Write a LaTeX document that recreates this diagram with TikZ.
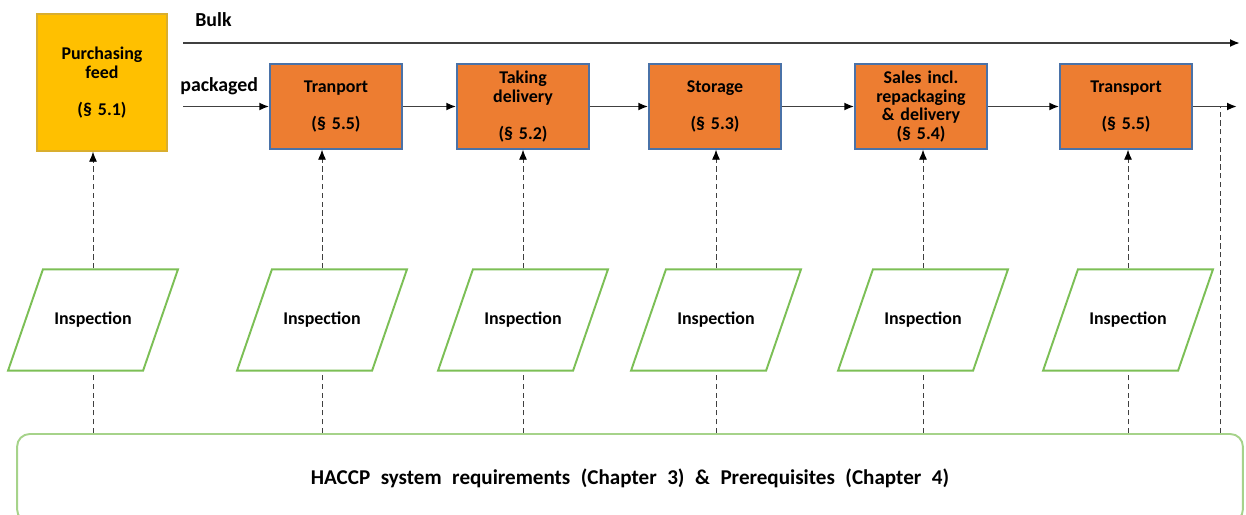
\documentclass[tikz,border=0pt]{standalone}
\usepackage{fontspec}
\setmainfont{Carlito}
\usetikzlibrary{shapes,arrows,arrows.meta}
\definecolor{feedyellow}{HTML}{FFC000}
\definecolor{feedborder}{HTML}{D9AE2E}
\definecolor{steporange}{HTML}{ED7D31}
\definecolor{stepborder}{HTML}{4A72A8}
\definecolor{inspgreen}{HTML}{7CBF56}
\definecolor{basegreen}{HTML}{A6D38A}
\definecolor{flowgray}{HTML}{404040}
\newcommand{\widespacing}{\spaceskip=0.5em\relax}
\tikzstyle{stepbox} = [rectangle, draw=stepborder, line width=0.8pt, fill=steporange,
    text width=2.3cm, align=center, minimum width=2.64cm, minimum height=1.7cm,
    font=\fontsize{10.2pt}{10.6pt}\selectfont\bfseries]
\tikzstyle{inspect} = [trapezium, trapezium left angle=71, trapezium right angle=109,
    trapezium stretches body, draw=inspgreen, line width=1.1pt, fill=white,
    minimum width=3.4cm, minimum height=2cm, inner xsep=2pt, inner ysep=0.86cm,
    font=\fontsize{10.2pt}{10.6pt}\selectfont\bfseries]
\tikzstyle{line} = [draw=flowgray, line width=1.1pt, -{Latex[length=0.2cm, width=0.16cm, color=black]}]
\tikzstyle{dotline} = [draw=flowgray, line width=0.5pt, densely dashed]
\tikzstyle{label} = [font=\fontsize{11.3pt}{12pt}\selectfont\bfseries, inner sep=0pt]

\begin{document}
\begin{tikzpicture}[x=0.02cm, y=-0.02cm]
		\useasboundingbox (0,0) rectangle (1246,514);
		\node [rectangle, draw=feedborder, line width=0.8pt, fill=feedyellow, text width=2.3cm, align=center,
			minimum width=2.6cm, minimum height=2.74cm, font=\fontsize{10.2pt}{10.6pt}\selectfont\bfseries]
			(purch) at (102,82.5) {Purchasing\\feed\\~\\(§ 5.1)};
		\node [stepbox] (tran1) at (336,106.5) {Tranport\\~\\(§ 5.5)};
		\node [stepbox] (deliv) at (523,106.5) {Taking\\delivery\\~\\(§ 5.2)};
		\node [stepbox] (store) at (715,106.5) {Storage\\~\\(§ 5.3)};
		\node [stepbox] (sales) at (921,106.5) {Sales incl.\\repackaging\\\& delivery\\(§ 5.4)};
		\node [stepbox] (tran2) at (1126,106.5) {Transport\\~\\(§ 5.5)};

		\node [inspect] (insp1) at (93,320) {Inspection};
		\node [inspect] (insp2) at (322,320) {Inspection};
		\node [inspect] (insp3) at (523,320) {Inspection};
		\node [inspect] (insp4) at (716,320) {Inspection};
		\node [inspect] (insp5) at (923,320) {Inspection};
		\node [inspect] (insp6) at (1128,320) {Inspection};

		\node [rectangle, draw=basegreen, line width=1.1pt, rounded corners=0.25cm,
			minimum width=24.52cm, minimum height=1.76cm,
			font=\fontsize{12pt}{12pt}\selectfont\bfseries]
			(haccp) at (630,478) {\widespacing HACCP system requirements (Chapter 3) \& Prerequisites (Chapter 4)};

		% bulk and packaged flows
		\node [label, anchor=west] (bulk) at (195,20) {Bulk};
		\node [label, anchor=west] (pack) at (180,86) {packaged};
		\coordinate (bulkin) at (183,43);
		\coordinate (bulkout) at (1240,43);
		\coordinate (packin) at (183,106.5);
		\coordinate (packout) at (1237,106.5);
		\coordinate (tap) at (1220,106.5);

		\path [line] (bulkin) -- (bulkout);
		\path [line] (packin) -- (tran1);
		\path [line] (tran1) -- (deliv);
		\path [line] (deliv) -- (store);
		\path [line] (store) -- (sales);
		\path [line] (sales) -- (tran2);
		\path [line] (tran2) -- (packout);

		% inspections
		\foreach \i/\s in {1/purch, 2/tran1, 3/deliv, 4/store, 5/sales, 6/tran2} {
			\path [dotline] (insp\i.south |- haccp.north) -- (insp\i.south);
			\path [dotline, -{Latex[length=0.2cm, width=0.16cm, color=black]}] (insp\i.north) -- (insp\i.north |- \s.south);
		}
		\path [dotline] (tap |- haccp.north) -- (tap);
	\end{tikzpicture}
\end{document}
